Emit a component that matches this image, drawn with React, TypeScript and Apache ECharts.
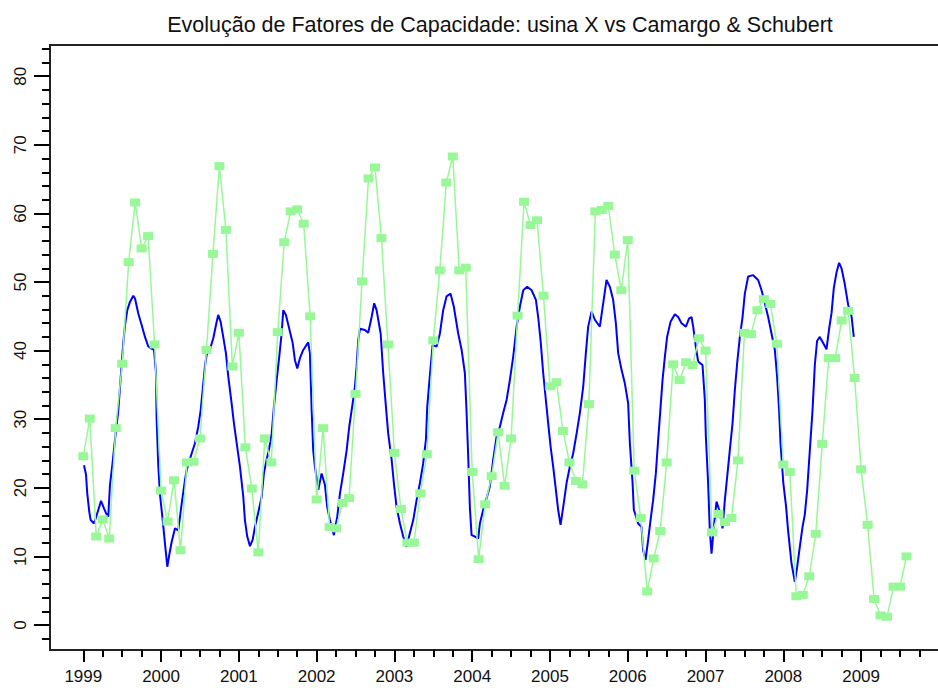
import React, { useEffect, useRef } from "react";
import * as echarts from "echarts";

// Camargo & Schubert estimate, monthly from Jan 1999 (capacity factor, %)
const camargoSchubert: number[] = [
  24.6, 30.1, 12.9, 15.4, 12.6, 28.7, 38.1, 52.9, 61.6, 54.9, 56.7, 40.9, // 1999
  19.6, 15.1, 21.1, 10.9, 23.7, 23.8, 27.2, 40.1, 54.1, 66.9, 57.6, 37.7, // 2000
  42.6, 25.9, 19.9, 10.6, 27.2, 23.7, 42.7, 55.8, 60.3, 60.6, 58.5, 45.0, // 2001
  18.3, 28.7, 14.3, 14.1, 17.8, 18.5, 33.7, 50.1, 65.1, 66.7, 56.4, 40.9, // 2002
  25.1, 16.9, 12.0, 12.0, 19.2, 24.9, 41.5, 51.7, 64.5, 68.3, 51.7, 52.1, // 2003
  22.3, 9.6, 17.6, 21.7, 28.1, 20.3, 27.2, 45.1, 61.7, 58.3, 59.0, 48.0, // 2004
  34.8, 35.4, 28.3, 23.7, 21.0, 20.5, 32.2, 60.3, 60.5, 61.1, 54.0, 48.8, // 2005
  56.1, 22.5, 15.6, 4.9, 9.7, 13.7, 23.7, 38.0, 35.7, 38.3, 37.9, 41.8, // 2006
  40.0, 13.5, 16.2, 15.0, 15.6, 24.0, 42.6, 42.4, 45.9, 47.5, 46.8, 41.0, // 2007
  23.4, 22.3, 4.2, 4.4, 7.1, 13.3, 26.4, 38.9, 38.9, 44.4, 45.8, 36.0, // 2008
  22.7, 14.6, 3.8, 1.4, 1.2, 5.6, 5.6, 10.0, // 2009
];
const camargoStartYear = 1999;

// usina X measured capacity factor: [decimal year, %]
const usinaX: [number, number][] = [
  [1999.009, 23.3], [1999.035, 21.9], [1999.051, 19.2], [1999.077, 16.5], [1999.095, 15.3],
  [1999.138, 14.8], [1999.172, 16.0], [1999.228, 18.1], [1999.266, 17.0], [1999.292, 16.3],
  [1999.321, 15.8], [1999.343, 20.4], [1999.378, 23.8], [1999.407, 27.0], [1999.45, 31.3],
  [1999.472, 34.7], [1999.494, 38.1], [1999.514, 41.1], [1999.536, 43.7], [1999.566, 45.9],
  [1999.6, 47.1], [1999.643, 48.0], [1999.665, 47.6], [1999.707, 45.4], [1999.751, 43.7],
  [1999.793, 42.0], [1999.835, 40.6], [1999.879, 40.3], [1999.909, 40.1], [1999.934, 36.9],
  [1999.943, 30.0], [1999.964, 23.3], [1999.986, 19.0],
  [2000.021, 15.3], [2000.05, 11.9], [2000.08, 8.5], [2000.105, 10.2], [2000.136, 12.1],
  [2000.179, 14.1], [2000.221, 13.8], [2000.265, 17.7], [2000.307, 21.1], [2000.329, 22.6],
  [2000.393, 25.0], [2000.436, 26.5], [2000.478, 28.9], [2000.509, 31.3], [2000.535, 34.3],
  [2000.564, 37.7], [2000.586, 39.4], [2000.629, 40.2], [2000.671, 41.8], [2000.715, 44.2],
  [2000.735, 45.2], [2000.766, 44.2], [2000.799, 42.0], [2000.834, 39.6], [2000.864, 36.2],
  [2000.907, 32.3], [2000.937, 29.4], [2000.972, 26.5],
  [2001.014, 23.1], [2001.057, 18.7], [2001.078, 15.3], [2001.108, 12.9], [2001.143, 11.5],
  [2001.177, 12.4], [2001.207, 14.3], [2001.249, 16.4], [2001.293, 18.7], [2001.322, 22.1],
  [2001.357, 24.1], [2001.391, 25.8], [2001.422, 27.9], [2001.451, 31.8], [2001.486, 35.7],
  [2001.519, 39.1], [2001.55, 42.5], [2001.571, 45.9], [2001.605, 45.2], [2001.648, 43.2],
  [2001.692, 41.1], [2001.721, 38.6], [2001.751, 37.4], [2001.785, 38.9], [2001.828, 40.1],
  [2001.892, 41.2], [2001.914, 39.6], [2001.936, 31.3], [2001.956, 25.5], [2001.978, 23.1],
  [2002.021, 19.7], [2002.064, 22.1], [2002.107, 20.4], [2002.136, 17.2], [2002.171, 15.3],
  [2002.222, 13.1], [2002.265, 15.8], [2002.3, 19.2], [2002.342, 22.1], [2002.386, 25.5],
  [2002.419, 28.9], [2002.463, 32.3], [2002.492, 34.7], [2002.514, 37.7], [2002.535, 41.5],
  [2002.557, 43.2], [2002.621, 43.0], [2002.663, 42.6], [2002.707, 44.9], [2002.74, 46.9],
  [2002.771, 45.9], [2002.823, 42.5], [2002.856, 36.7], [2002.891, 31.8], [2002.92, 27.9],
  [2002.964, 24.1], [2002.993, 20.7],
  [2003.028, 17.2], [2003.071, 14.8], [2003.113, 12.9], [2003.157, 11.4], [2003.199, 13.4],
  [2003.242, 15.3], [2003.285, 18.2], [2003.328, 20.7], [2003.37, 23.6], [2003.405, 27.0],
  [2003.422, 31.8], [2003.456, 36.4], [2003.491, 40.8], [2003.542, 40.6], [2003.585, 42.5],
  [2003.627, 45.9], [2003.67, 47.9], [2003.722, 48.3], [2003.764, 46.4], [2003.82, 42.5],
  [2003.864, 40.1], [2003.906, 36.7], [2003.928, 30.9], [2003.949, 24.5], [2003.97, 17.2],
  [2003.992, 13.1],
  [2004.035, 12.9], [2004.077, 12.6], [2004.099, 14.8], [2004.141, 16.8], [2004.185, 18.5],
  [2004.227, 20.2], [2004.27, 24.1], [2004.314, 27.5], [2004.356, 28.9], [2004.398, 30.9],
  [2004.442, 32.8], [2004.484, 35.7], [2004.527, 39.1], [2004.571, 43.5], [2004.613, 46.4],
  [2004.656, 48.8], [2004.707, 49.3], [2004.764, 48.8], [2004.819, 47.4], [2004.848, 44.9],
  [2004.879, 41.5], [2004.913, 36.7], [2004.947, 32.8], [2004.977, 29.4],
  [2005.008, 26.0], [2005.041, 23.1], [2005.076, 19.7], [2005.105, 16.8], [2005.136, 14.6],
  [2005.17, 17.2], [2005.213, 20.7], [2005.256, 23.1], [2005.298, 25.0], [2005.342, 27.9],
  [2005.384, 30.9], [2005.427, 34.7], [2005.461, 39.6], [2005.491, 43.5], [2005.535, 45.7],
  [2005.577, 44.5], [2005.641, 43.5], [2005.684, 46.9], [2005.727, 50.3], [2005.77, 49.3],
  [2005.812, 47.4], [2005.847, 44.0], [2005.877, 39.6], [2005.92, 37.2], [2005.963, 35.2],
  [2006.005, 32.3], [2006.027, 26.5], [2006.062, 20.7], [2006.078, 16.8], [2006.134, 14.8],
  [2006.177, 14.3], [2006.198, 10.9], [2006.229, 9.5], [2006.262, 12.4], [2006.293, 15.3],
  [2006.326, 18.2], [2006.361, 22.1], [2006.391, 27.0], [2006.422, 31.8], [2006.447, 35.7],
  [2006.477, 39.1], [2006.506, 42.0], [2006.55, 44.2], [2006.605, 45.3], [2006.648, 44.9],
  [2006.691, 44.0], [2006.747, 43.5], [2006.789, 44.7], [2006.82, 44.9], [2006.841, 43.5],
  [2006.875, 40.6], [2006.905, 38.4], [2006.961, 37.9], [2006.991, 32.8],
  [2007.004, 27.5], [2007.033, 20.7], [2007.055, 13.8], [2007.077, 10.4], [2007.107, 14.3],
  [2007.141, 18.0], [2007.175, 16.8], [2007.219, 14.1], [2007.248, 18.2], [2007.278, 21.6],
  [2007.312, 25.5], [2007.347, 29.4], [2007.377, 34.3], [2007.406, 38.1], [2007.441, 42.0],
  [2007.476, 44.9], [2007.505, 48.3], [2007.548, 50.8], [2007.612, 51.0], [2007.676, 50.3],
  [2007.72, 48.8], [2007.762, 46.9], [2007.805, 44.9], [2007.848, 42.5], [2007.891, 40.1],
  [2007.92, 36.2], [2007.946, 31.3], [2007.964, 26.5],
  [2008.0, 20.7], [2008.035, 17.3], [2008.062, 13.7], [2008.105, 9.0], [2008.148, 6.3],
  [2008.177, 8.4], [2008.212, 11.4], [2008.247, 14.3], [2008.276, 16.1], [2008.306, 19.6],
  [2008.341, 25.5], [2008.376, 31.4], [2008.405, 37.9], [2008.434, 41.4], [2008.469, 42.0],
  [2008.512, 41.1], [2008.555, 40.2], [2008.589, 43.2], [2008.62, 45.5], [2008.649, 49.1],
  [2008.684, 51.4], [2008.717, 52.8], [2008.748, 52.0], [2008.79, 49.7], [2008.833, 46.7],
  [2008.877, 45.0], [2008.906, 42.0],
];

// Axis ticks
const yearLabels: number[] = [1999, 2000, 2001, 2002, 2003, 2004, 2005, 2006, 2007, 2008, 2009];
const yearTicks: number[] = [...yearLabels, 2010];
const quarterTicks: number[] = [];
for (let y = 1999; y <= 2009; y++) quarterTicks.push(y + 0.25, y + 0.5, y + 0.75);
const valueTicks: number[] = [0, 10, 20, 30, 40, 50, 60, 70, 80];
const valueMinorTicks: number[] = [];
for (let v = -2; v <= 84; v += 2) if (v % 10 !== 0) valueMinorTicks.push(v);

const TITLE = "Evolução de Fatores de Capacidade: usina X vs Camargo & Schubert";
const FONT = "Liberation Sans, Arial, sans-serif";

const X_MIN = 1998.572;
const X_MAX = 2010.22;
const Y_MIN = -3.64;
const Y_MAX = 84.55;

export default function App() {
  const ref = useRef<HTMLDivElement>(null);

  useEffect(() => {
    if (!ref.current) return;
    const chart = echarts.init(ref.current, undefined, { renderer: "svg" });

    const greenData = camargoSchubert.map((v, i) => [camargoStartYear + i / 12, v]);

    const baseX = {
      type: "value" as const,
      min: X_MIN,
      max: X_MAX,
      position: "bottom" as const,
      axisLine: { show: false, onZero: false },
      splitLine: { show: false },
    };
    const baseY = {
      type: "value" as const,
      min: Y_MIN,
      max: Y_MAX,
      position: "left" as const,
      axisLine: { show: false, onZero: false },
      splitLine: { show: false },
    };
    const tickLine = { color: "#000", width: 2 };

    chart.setOption({
      animation: false,
      backgroundColor: "#ffffff",
      title: {
        text: TITLE,
        left: 495,
        top: 9,
        textAlign: "center",
        textStyle: { fontFamily: FONT, fontSize: 21.5, fontWeight: "normal", color: "#111" },
      },
      grid: {
        left: 50,
        top: 45,
        width: 906,
        height: 605,
        containLabel: false,
        outerBoundsMode: "none",
        show: true,
        borderColor: "#222",
        borderWidth: 2,
        backgroundColor: "transparent",
      },
      xAxis: [
        {
          ...baseX,
          axisTick: { show: true, inside: false, length: 12, customValues: yearTicks, lineStyle: tickLine },
          axisLabel: {
            show: true,
            customValues: yearLabels,
            margin: 18,
            fontFamily: FONT,
            fontSize: 17,
            color: "#111",
            formatter: (v: number) => String(Math.round(v)),
          },
        },
        {
          ...baseX,
          axisTick: { show: true, inside: false, length: 7, customValues: quarterTicks, lineStyle: tickLine },
          axisLabel: { show: false },
        },
      ],
      yAxis: [
        {
          ...baseY,
          axisTick: { show: true, inside: false, length: 16, customValues: valueTicks, lineStyle: tickLine },
          axisLabel: {
            show: true,
            customValues: valueTicks,
            rotate: 90,
            margin: 21,
            fontFamily: FONT,
            fontSize: 17,
            color: "#111",
          },
        },
        {
          ...baseY,
          axisTick: { show: true, inside: false, length: 8, customValues: valueMinorTicks, lineStyle: tickLine },
          axisLabel: { show: false },
        },
      ],
      series: [
        {
          name: "usina X",
          type: "line",
          xAxisIndex: 0,
          yAxisIndex: 0,
          data: usinaX,
          showSymbol: false,
          lineStyle: { color: "#0000ff", width: 2 },
          z: 2,
        },
        {
          name: "Camargo & Schubert",
          type: "line",
          xAxisIndex: 0,
          yAxisIndex: 0,
          data: greenData,
          symbol: "rect",
          symbolSize: [10, 8],
          itemStyle: { color: "#98f898" },
          lineStyle: { color: "#98f898", width: 1.5 },
          z: 3,
        },
      ],
    });

    return () => chart.dispose();
  }, []);

  return (
    <div
      ref={ref}
      style={{ position: "absolute", left: 0, top: 0, width: 938, height: 688 }}
    />
  );
}
